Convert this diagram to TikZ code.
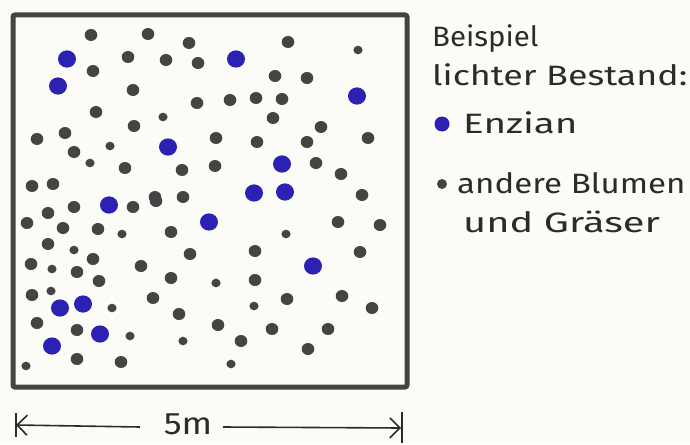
\documentclass[tikz,border=0pt]{standalone}
\usepackage{fontspec}
\usepackage{graphicx}
\setmainfont{Fira Sans}
\usetikzlibrary{arrows.meta}
\definecolor{paper}{HTML}{FBFBF7}
\definecolor{ink}{HTML}{444444}
\definecolor{pen}{HTML}{2B2B2B}
\definecolor{enz}{HTML}{2B21B2}
\newcommand{\hstretch}[2]{\scalebox{#1}[1]{#2}}
\begin{document}
\begin{tikzpicture}[x=1pt,y=-1pt,
  legendtext/.style={anchor=base west, inner sep=0pt, text=pen, font=\fontsize{28}{32}\selectfont},
  dimline/.style={pen, line width=1.6pt},
  dimtip/.style={-{Straight Barb[length=10pt,width=20pt,line width=1.6pt]}}]
\fill[paper] (0,0) rectangle (690,444);
\useasboundingbox (0,0) rectangle (690,444);
% frame
\draw[ink, line width=5pt, rounded corners=2pt] (13,15) rectangle (407,387);
% regular grey dots
\foreach \x/\y in {91/35,148/34,189/43,128/57,166/60,198/63,93/71,133/90,197/103,96/112,134/126,65/133,37/139,74/152,125/168,182/170,32/186,53/184,155/197,183/197,
  288/42,275/76,307/78,230/100,256/98,282/99,273/118,321/127,216/138,257/142,307/142,368/138,316/163,215/166,341/174,362/195,
  133/207,156/201,74/207,48/213,27/223,63/228,98/229,171/232,48/244,93/259,190/254,31/264,77/272,141/266,99/281,171/278,32/295,153/298,179/314,37/323,77/330,77/359,121/362,
  338/222,380/225,255/251,360/252,255/280,287/299,342/296,372/308,218/325,272/329,328/329,241/341,308/349}
  \fill[ink] (\x,\y) ellipse (6.3 and 6);
% small grey dots
\foreach \x/\y in {110/146,90/163,163/117,358/50,286/234,122/234,74/250,52/269,51/291,112/308,130/336,183/341,26/366,216/283,254/306,231/364}
  \fill[ink] (\x,\y) ellipse (4.6 and 4.3);
% Enzian (blue)
\foreach \x/\y in {67/59,58/86,236/59,357/96,168/147,282/164,254/193,285/192,109/205,209/222,313/266,60/308,83/304,100/334,52/346}
  \fill[enz] (\x,\y) ellipse (9 and 8.6);
% legend
\node[legendtext] (l1) at (432,47) {\hstretch{1.05}{Beispiel}};
\node[legendtext] (l2) at (432,85) {\hstretch{1.28}{lichter Bestand:}};
\fill[enz] (442,124) circle (7.5);
\node[legendtext] (l3) at (463,133) {\hstretch{1.38}{Enzian}};
\fill[ink] (442,184) circle (5);
\node[legendtext] (l4) at (457,193) {\hstretch{1.18}{andere Blumen}};
\node[legendtext] (l5) at (463,232) {\hstretch{1.42}{und Gräser}};
% dimension
\node[inner sep=0pt, text=pen, font=\fontsize{31}{34}\selectfont, anchor=base] (five) at (188,434) {\hstretch{1.15}{5m}};
\coordinate (al) at (16,425);
\coordinate (ar) at (401,428);
\coordinate (lq) at (140,427);
\coordinate (rq) at (223,427);
\draw[dimline] (16,413) -- (16,437);
\draw[dimline] (402,412) -- (402,443);
\draw[dimline, dimtip] (lq) -- (al);
\draw[dimline, dimtip] (rq) -- (ar);
\end{tikzpicture}
\end{document}
